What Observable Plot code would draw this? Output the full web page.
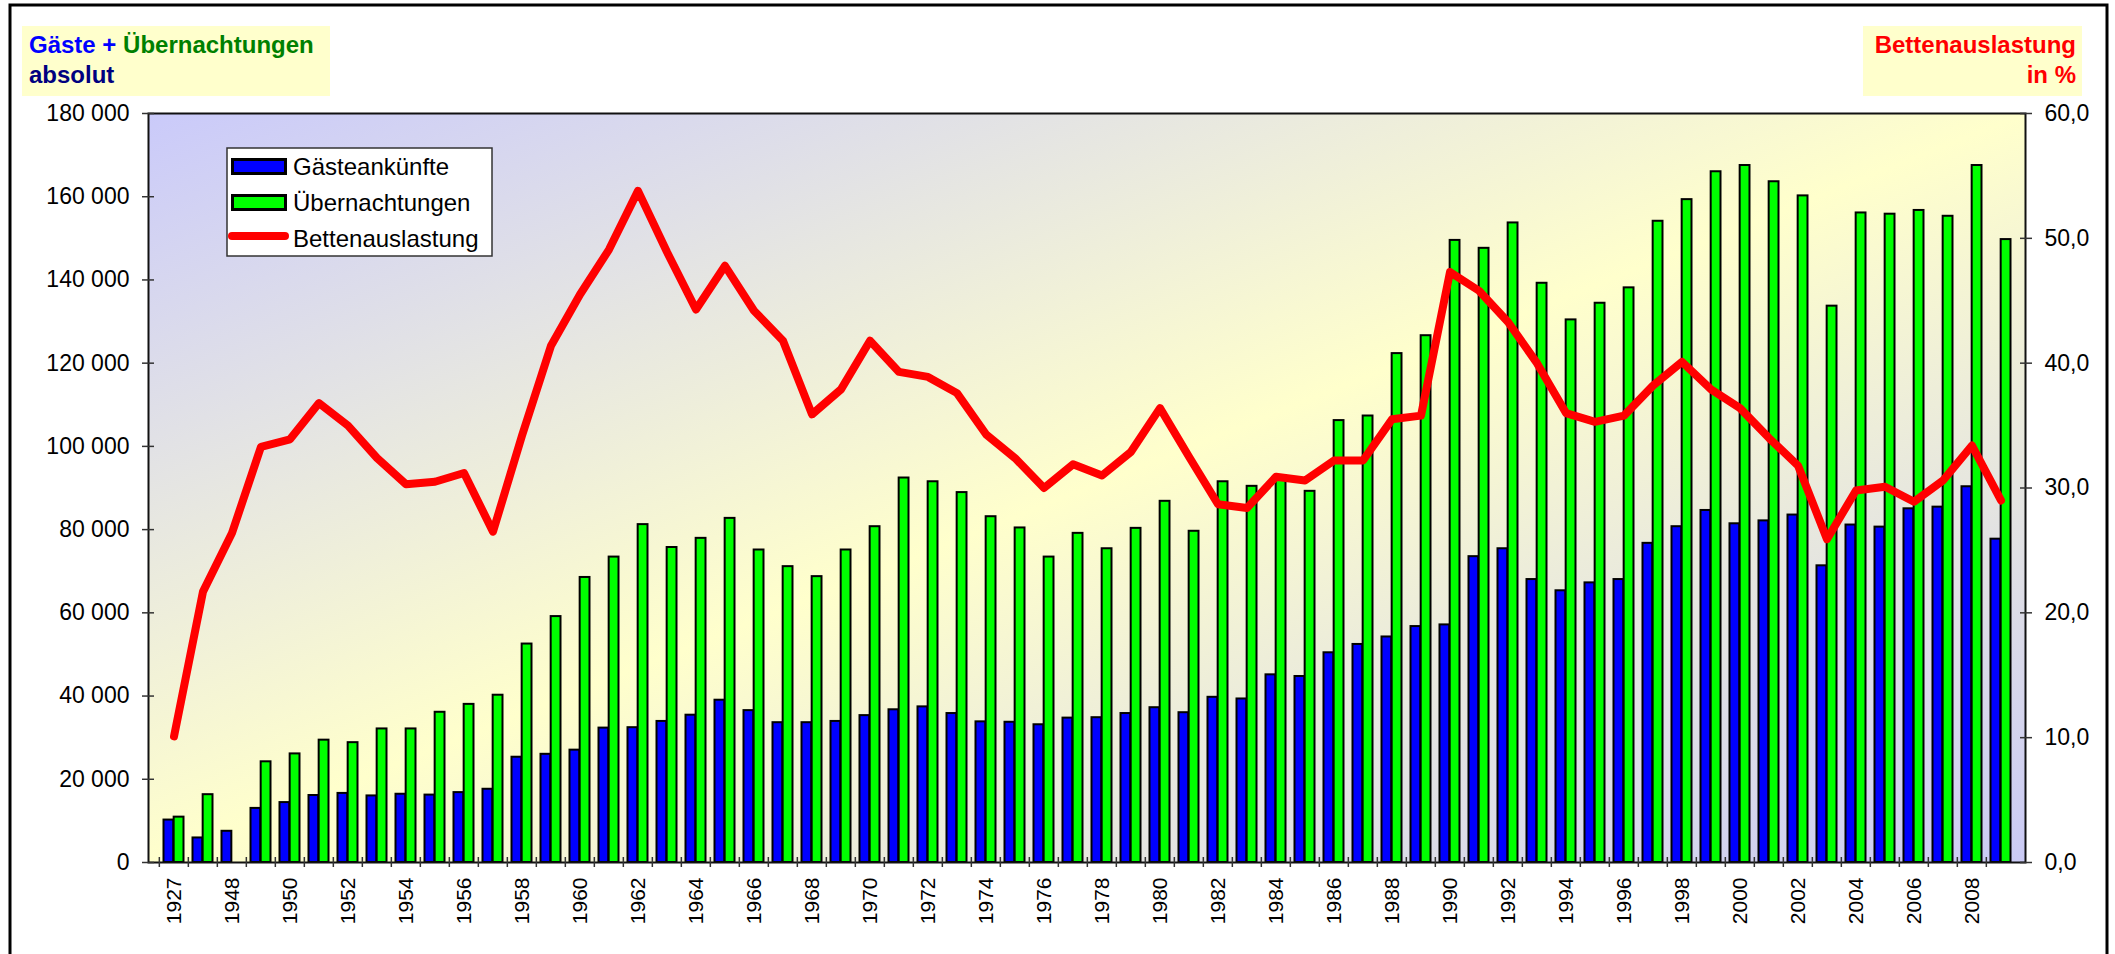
<!DOCTYPE html>
<html>
<head>
<meta charset="utf-8">
<script src="https://cdn.jsdelivr.net/npm/d3@7"></script>
<script src="https://cdn.jsdelivr.net/npm/@observablehq/plot@0.6"></script>
<style>
  html, body { margin: 0; padding: 0; background: #fff; overflow: hidden; }
  #chart svg { display: block; }
</style>
</head>
<body>
<div id="chart"></div>
<script>
// ---- Data ----
const years = ["1927","1937","1948","1949","1950","1951","1952","1953","1954","1955","1956","1957",
  "1958","1959","1960","1961","1962","1963","1964","1965","1966","1967",
  "1968","1969","1970","1971","1972","1973","1974","1975","1976","1977",
  "1978","1979","1980","1981","1982","1983","1984","1985","1986","1987",
  "1988","1989","1990","1991","1992","1993","1994","1995","1996","1997",
  "1998","1999","2000","2001","2002","2003","2004","2005","2006","2007","2008","2009"];

const gaesteankuenfte = [10200,5900,7500,13000,14400,16100,16600,16000,16400,16200,16800,17600,
  25300,26000,27000,32300,32400,33900,35400,39000,36500,33600,
  33600,33900,35300,36700,37400,35800,33800,33700,33100,34700,
  34800,35800,37200,36000,39700,39300,45100,44700,50400,52400,
  54200,56700,57100,73500,75400,68000,65300,67200,68000,76700,
  80700,84600,81400,82100,83500,71300,81100,80600,85000,85400,90300,77700];

const uebernachtungen = [10900,16300,null,24200,26100,29400,28800,32100,32100,36100,38000,40200,
  52500,59100,68500,73400,81200,75700,77900,82700,75100,71100,
  68700,75100,80700,92400,91500,88900,83100,80400,73400,79100,
  75400,80300,86800,79600,91500,90400,93000,89200,106200,107300,
  122300,126600,149500,147600,153700,139200,130400,134400,138100,154100,
  159300,166000,167500,163600,160200,133700,156100,155800,156700,155300,167500,149700];

const bettenauslastung = [10.1,21.7,26.4,33.3,33.9,36.8,35.0,32.4,30.3,30.5,31.2,26.5,
  34.2,41.4,45.5,49.1,53.8,48.9,44.3,47.8,44.2,41.8,
  35.9,37.9,41.8,39.3,38.9,37.6,34.3,32.4,30.0,31.9,
  31.0,32.9,36.4,32.5,28.7,28.4,30.9,30.6,32.2,32.2,
  35.5,35.8,47.3,45.8,43.3,40.0,36.0,35.3,35.8,38.2,
  40.1,37.9,36.4,34.0,31.8,25.9,29.8,30.1,28.9,30.6,33.4,29.0];

const leftTicks = [0,20000,40000,60000,80000,100000,120000,140000,160000,180000];
const rightTicks = [0,10,20,30,40,50,60];
const leftMax = 180000, rightMax = 60;
const ratio = leftMax / rightMax;

const data = years.map((year, i) => ({year, g: gaesteankuenfte[i], u: uebernachtungen[i], p: bettenauslastung[i]}));

// ---- Layout ----
const W = 2115, H = 954;
const mL = 148, mR = 90, mT = 113, mB = 92;
const bw = (W - mL - mR) / years.length;
const pad = 4.5;

const fmtLeft = d => d3.format(",")(d).replace(/,/g, " ");
const fmtRight = d => (d / ratio).toFixed(1).replace(".", ",");

const chart = Plot.plot({
  width: W, height: H,
  marginLeft: mL, marginRight: mR, marginTop: mT, marginBottom: mB,
  style: {fontFamily: "'Liberation Sans', Arial, sans-serif", fontSize: "23px", background: "white", color: "black", overflow: "visible"},
  x: {type: "band", domain: years, padding: 0, axis: null, label: null},
  y: {domain: [0, leftMax], axis: null, label: null},
  marks: [
    Plot.frame({fill: "url(#bgGrad)"}),
    Plot.barY(data, {x: "year", y: "g", fill: "#0000FF", stroke: "black", strokeWidth: 2, insetLeft: pad, insetRight: bw / 2}),
    Plot.barY(data.filter(d => d.u != null), {x: "year", y: "u", fill: "#00FF00", stroke: "black", strokeWidth: 2, insetLeft: bw / 2, insetRight: pad}),
    Plot.line(data, {x: "year", y: d => d.p * ratio, stroke: "#FF0000", strokeWidth: 8, strokeLinejoin: "round", strokeLinecap: "round"}),
    Plot.frame({stroke: "#111", strokeWidth: 2}),
    // left axis
    Plot.axisY({anchor: "left", ticks: leftTicks, tickSize: 0, tickPadding: 19, tickFormat: fmtLeft, label: null}),
    Plot.axisY({anchor: "left", ticks: leftTicks, tickSize: 12, dx: 6, tickFormat: () => "", label: null, stroke: "#333", strokeWidth: 1.5}),
    // right axis
    Plot.axisY({anchor: "right", ticks: rightTicks.map(v => v * ratio), tickSize: 0, tickPadding: 19, tickFormat: fmtRight, label: null}),
    Plot.axisY({anchor: "right", ticks: rightTicks.map(v => v * ratio), tickSize: 12, dx: -6, tickFormat: () => "", label: null, stroke: "#333", strokeWidth: 1.5}),
    // x axis: boundary ticks and labels
    Plot.axisX({ticks: years, tickSize: 10, dx: -bw / 2, dy: -5, tickFormat: () => "", label: null, stroke: "#333", strokeWidth: 1.5}),
    Plot.axisX({ticks: years.filter((d, i) => i % 2 === 0), tickSize: 0, tickPadding: 15, tickRotate: -90, fontSize: 21, label: null})
  ]
});

const svg = d3.select(chart);
svg.insert("defs", ":first-child").html(
  '<linearGradient id="bgGrad" x1="0" y1="0" x2="1" y2="1">' +
  '<stop offset="0" stop-color="#CACAFA"/>' +
  '<stop offset="0.5" stop-color="#FFFFCC"/>' +
  '<stop offset="1" stop-color="#CACAF5"/>' +
  '</linearGradient>');

const g = svg.append("g").attr("font-family", "'Liberation Sans', Arial, sans-serif").attr("text-anchor", "start");
// outer frame
g.append("rect").attr("x", 10).attr("y", 5).attr("width", 2097).attr("height", 1000)
  .attr("fill", "none").attr("stroke", "black").attr("stroke-width", 3);

// left title box
g.append("rect").attr("x", 22).attr("y", 26).attr("width", 308).attr("height", 70).attr("fill", "#FFFFCC");
const t1 = g.append("text").attr("x", 29).attr("y", 53).attr("text-anchor", "start").attr("font-size", 24).attr("font-weight", "bold");
t1.append("tspan").attr("fill", "#0000FF").text("Gäste + ");
t1.append("tspan").attr("fill", "#008000").text("Übernachtungen");
g.append("text").attr("x", 29).attr("y", 83).attr("text-anchor", "start").attr("font-size", 24).attr("font-weight", "bold").attr("fill", "#000080").text("absolut");

// right title box
g.append("rect").attr("x", 1863).attr("y", 26).attr("width", 219).attr("height", 70).attr("fill", "#FFFFCC");
g.append("text").attr("x", 2076).attr("y", 53).attr("text-anchor", "end").attr("font-size", 24).attr("font-weight", "bold").attr("fill", "#FF0000").text("Bettenauslastung");
g.append("text").attr("x", 2076).attr("y", 83).attr("text-anchor", "end").attr("font-size", 24).attr("font-weight", "bold").attr("fill", "#FF0000").text("in %");

// legend
const lg = g.append("g");
lg.append("rect").attr("x", 227).attr("y", 148).attr("width", 265).attr("height", 108)
  .attr("fill", "white").attr("stroke", "#333").attr("stroke-width", 1.5);
lg.append("rect").attr("x", 232.5).attr("y", 159.5).attr("width", 53).attr("height", 14)
  .attr("fill", "#0000FF").attr("stroke", "black").attr("stroke-width", 3);
lg.append("rect").attr("x", 232.5).attr("y", 195.5).attr("width", 53).attr("height", 14)
  .attr("fill", "#00FF00").attr("stroke", "black").attr("stroke-width", 3);
lg.append("line").attr("x1", 232).attr("x2", 285).attr("y1", 236).attr("y2", 236)
  .attr("stroke", "#FF0000").attr("stroke-width", 8).attr("stroke-linecap", "round");
[["Gästeankünfte", 175], ["Übernachtungen", 211], ["Bettenauslastung", 247]].forEach(([t, y]) => {
  lg.append("text").attr("x", 293).attr("y", y).attr("text-anchor", "start").attr("font-size", 24).attr("fill", "black").text(t);
});

document.getElementById("chart").appendChild(chart);
</script>
</body>
</html>
